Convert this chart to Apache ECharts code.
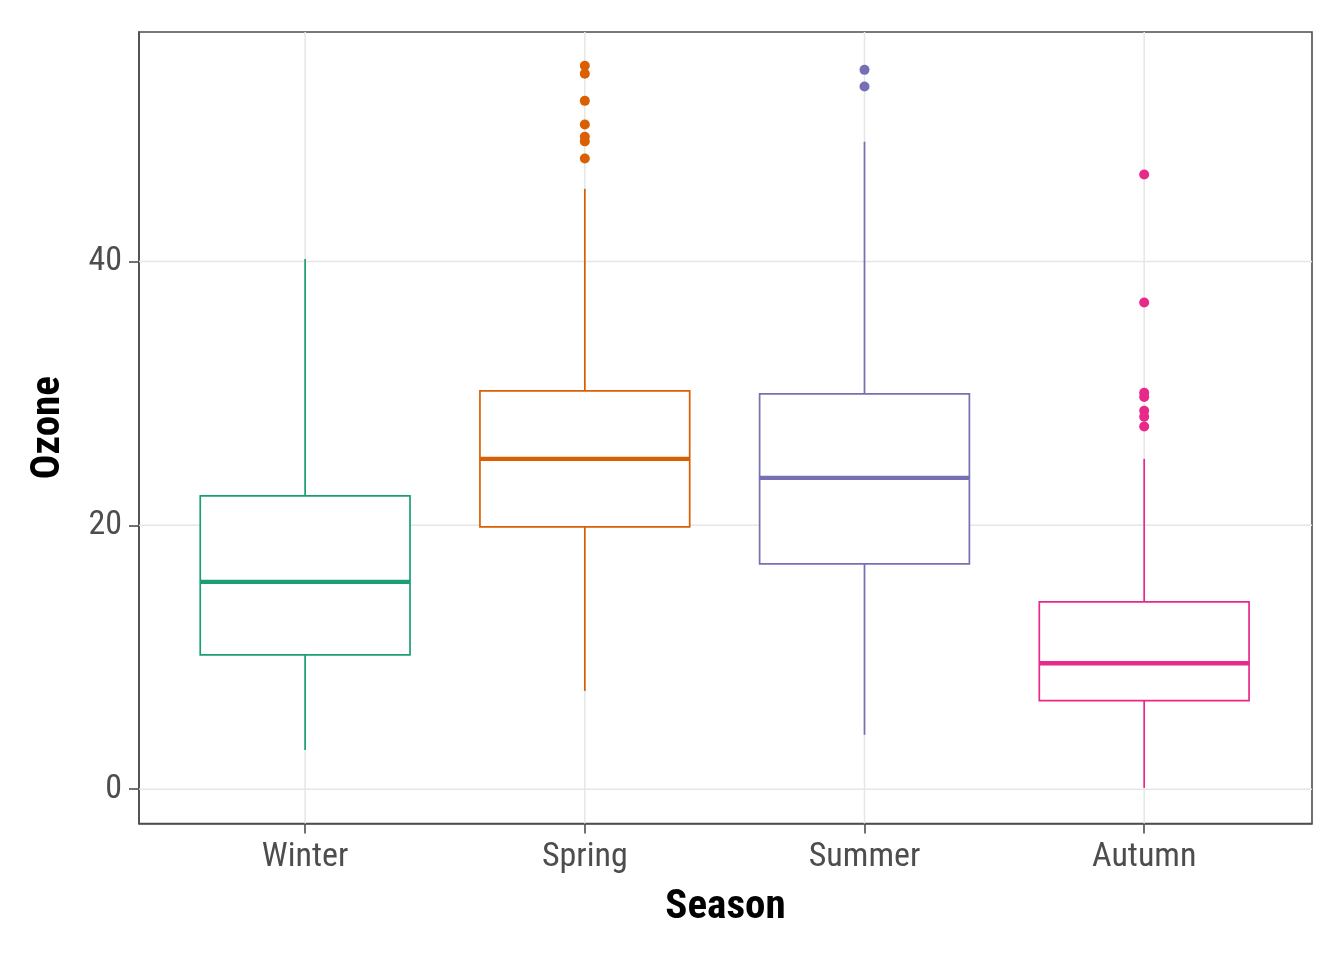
<!DOCTYPE html>
<html><head><meta charset="utf-8">
<script src="https://cdn.jsdelivr.net/npm/echarts@6/dist/echarts.min.js"></script>
<style>html,body{margin:0;padding:0;background:#fff}#c{width:1344px;height:960px}</style>
</head><body><div id="c"></div>
<script>
const seasons = ['Winter', 'Spring', 'Summer', 'Autumn'];
const colors = ['#1B9E77', '#D95F02', '#7570B3', '#E7298A'];
const lowWhisker = [2.98, 7.45, 4.12, 0.1];
const q1 = [10.18, 19.88, 17.08, 6.72];
const median = [15.72, 25.04, 23.6, 9.55];
const q3 = [22.24, 30.2, 29.97, 14.2];
const highWhisker = [40.2, 45.51, 49.08, 25.04];
const outWinter = [];
const outSpring = [54.84, 54.23, 52.18, 50.39, 49.45, 49.11, 47.81];
const outSummer = [54.53, 53.27];
const outAutumn = [46.6, 36.89, 30.05, 29.74, 28.68, 28.23, 27.49];
const yTicks = [0, 20, 40];
const catPos = [1, 2, 3, 4];

const FONT = "'Roboto Condensed', Roboto, sans-serif";
const outliers = [outWinter, outSpring, outSummer, outAutumn];
const X_MIN = 0.406, X_MAX = 4.6, Y_MIN = -2.6, Y_MAX = 57.4;

const boxData = seasons.map((s, i) => [catPos[i], lowWhisker[i], q1[i], median[i], q3[i], highWhisker[i]]);

const series = [];
// grid lines (horizontal at y ticks, vertical at categories)
const gridData = yTicks.map(v => [0, v]).concat(catPos.map(v => [1, v]));
series.push({
  type: 'custom', z: 1, silent: true,
  data: gridData,
  encode: { x: -1, y: -1 },
  renderItem: function (params, api) {
    const kind = api.value(0), v = api.value(1);
    let a, b;
    if (kind === 0) { a = api.coord([X_MIN, v]); b = api.coord([X_MAX, v]); }
    else { a = api.coord([v, Y_MIN]); b = api.coord([v, Y_MAX]); }
    return { type: 'line', shape: { x1: a[0], y1: a[1], x2: b[0], y2: b[1] }, style: { stroke: '#E6E6E6', lineWidth: 1.5 } };
  }
});
series.push({
  type: 'custom', z: 3, silent: true,
  data: boxData,
  encode: { x: 0, y: [1, 2, 3, 4, 5] },
  renderItem: function (params, api) {
    const x = api.value(0);
    const c = colors[params.dataIndex];
    const half = api.size([0.75, 0])[0] / 2;
    const pLow = api.coord([x, api.value(1)]);
    const pQ1 = api.coord([x, api.value(2)]);
    const pMed = api.coord([x, api.value(3)]);
    const pQ3 = api.coord([x, api.value(4)]);
    const pHigh = api.coord([x, api.value(5)]);
    const cx = pLow[0];
    return {
      type: 'group', children: [
        { type: 'line', shape: { x1: cx, y1: pLow[1], x2: cx, y2: pQ1[1] }, style: { stroke: c, lineWidth: 1.7 } },
        { type: 'line', shape: { x1: cx, y1: pQ3[1], x2: cx, y2: pHigh[1] }, style: { stroke: c, lineWidth: 1.7 } },
        { type: 'rect', shape: { x: cx - half, y: pQ3[1], width: 2 * half, height: pQ1[1] - pQ3[1] }, style: { fill: '#fff', stroke: c, lineWidth: 1.7 } },
        { type: 'line', shape: { x1: cx - half, y1: pMed[1], x2: cx + half, y2: pMed[1] }, style: { stroke: c, lineWidth: 4.4 } }
      ]
    };
  }
});
outliers.forEach((arr, i) => {
  series.push({
    type: 'scatter', z: 4, silent: true,
    data: arr.map(v => [catPos[i], v]),
    symbol: 'circle', symbolSize: 10,
    itemStyle: { color: colors[i], opacity: 1 }
  });
});

const chart = echarts.init(document.getElementById('c'), null, { renderer: 'canvas' });
chart.setOption({
  backgroundColor: '#fff',
  animation: false,
  grid: { left: 139, right: 32, top: 32, bottom: 136.5, show: true, borderColor: '#4D4D4D', borderWidth: 1.6, backgroundColor: 'transparent', containLabel: false },
  xAxis: {
    type: 'value', min: X_MIN, max: X_MAX,
    name: 'Season', nameLocation: 'middle', nameGap: 64,
    nameTextStyle: { fontFamily: FONT, fontWeight: 'bold', fontSize: 41, color: '#000' },
    axisLine: { show: true, onZero: false, lineStyle: { color: '#4D4D4D', width: 1.6 } },
    splitLine: { show: false },
    axisTick: { show: true, customValues: catPos, length: 10, lineStyle: { color: '#4D4D4D', width: 1.6 } },
    axisLabel: {
      customValues: catPos, margin: 17,
      formatter: v => seasons[Math.round(v) - 1] || '',
      fontFamily: FONT, fontSize: 34, color: '#4D4D4D'
    }
  },
  yAxis: {
    type: 'value', min: Y_MIN, max: Y_MAX,
    name: 'Ozone', nameLocation: 'middle', nameGap: 70, nameRotate: 90,
    nameTextStyle: { fontFamily: FONT, fontWeight: 'bold', fontSize: 41, color: '#000' },
    axisLine: { show: true, onZero: false, lineStyle: { color: '#4D4D4D', width: 1.6 } },
    splitLine: { show: false },
    axisTick: { show: true, customValues: yTicks, length: 10, lineStyle: { color: '#4D4D4D', width: 1.6 } },
    axisLabel: {
      customValues: yTicks, margin: 17, padding: [4, 0, 0, 0],
      fontFamily: FONT, fontSize: 34, color: '#4D4D4D'
    }
  },
  series: series
});
</script>
</body></html>
